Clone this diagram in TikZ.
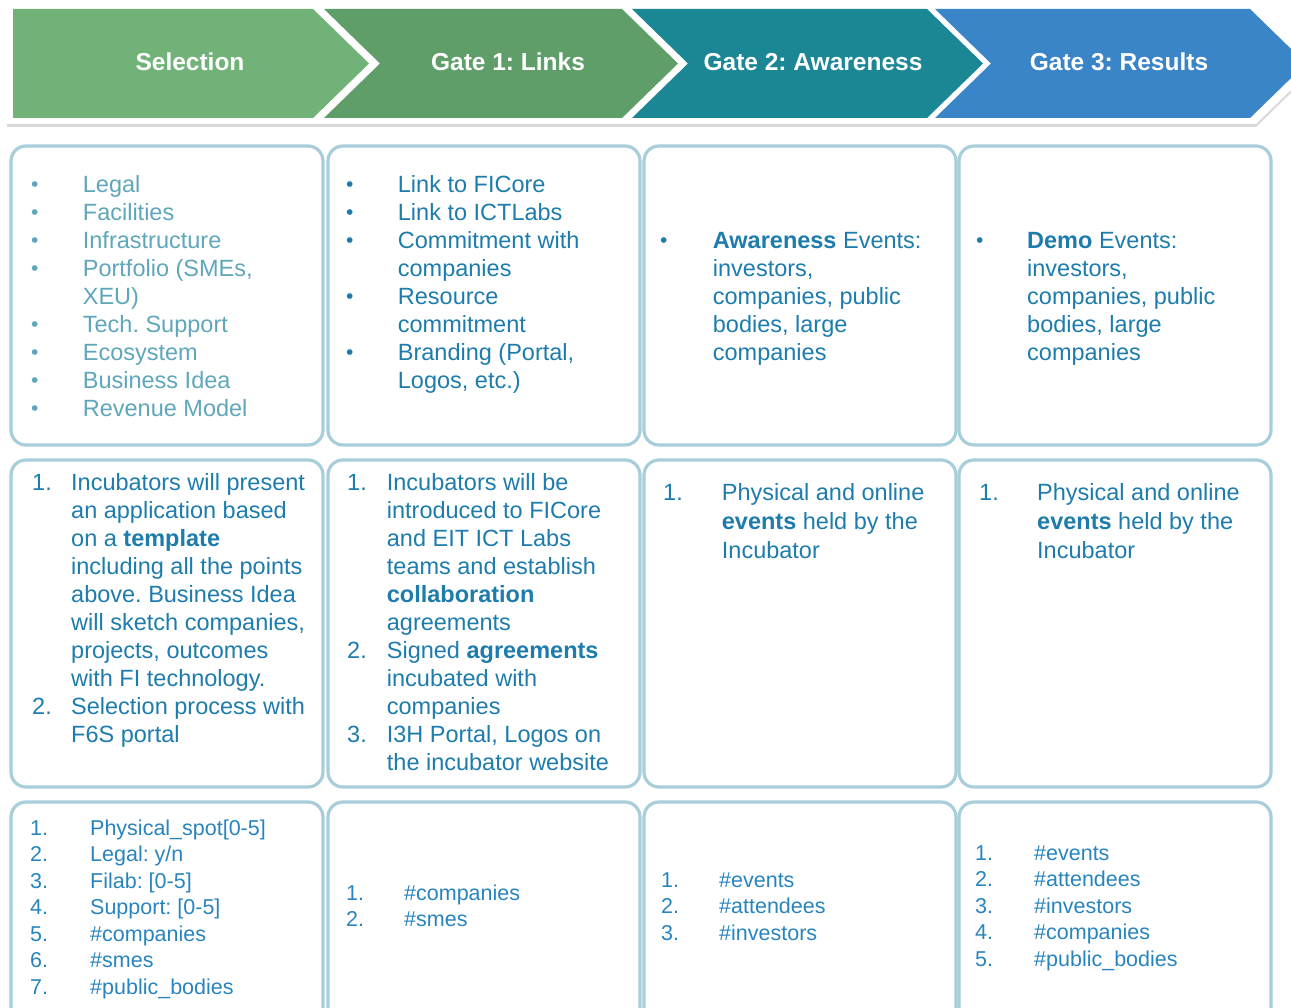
\documentclass[tikz,border=0pt]{standalone}
\usepackage{fontspec}
\setmainfont{Liberation Sans}
\usetikzlibrary{shadows}

\definecolor{selgreen}{RGB}{112,178,119}
\definecolor{linkgreen}{RGB}{95,158,104}
\definecolor{awareteal}{RGB}{27,135,149}
\definecolor{resultblue}{RGB}{58,132,200}
\definecolor{boxline}{RGB}{168,206,218}
\definecolor{softtext}{RGB}{95,166,186}
\definecolor{maintext}{RGB}{29,124,172}
\definecolor{kpitext}{RGB}{40,132,190}

\newcommand{\bodyfont}{\fontsize{23.5}{28}\selectfont}
\newcommand{\eventfont}{\fontsize{23.5}{29}\selectfont}
\newcommand{\kpifont}{\fontsize{21.5}{26.5}\selectfont}
\newcommand{\headfont}{\fontsize{24.5}{28}\selectfont\bfseries}
\newcommand{\bul}{\raisebox{1.5pt}{\fontsize{21}{21}\selectfont\textbullet}}

\begin{document}
\frenchspacing
\begin{tikzpicture}[x=1pt,y=-1pt,
  gatelabel/.style={text=white, font=\headfont, inner sep=0pt},
  cellbox/.style={draw=boxline, line width=3.2pt, rounded corners=15pt},
  cell/.style={anchor=base west, inner sep=0pt}]
\path[use as bounding box, clip] (0,0) rectangle (1291,1008);

% arrow band
\fill[white, drop shadow={shadow xshift=0pt, shadow yshift=-3pt, opacity=0.3}]
  (7,4) -- (1256,4) -- (1318,63.5) -- (1256,124) -- (7,124) -- cycle;
\fill[selgreen] (13,9) -- (313,9) -- (369,63.5) -- (313,118) -- (13,118) -- cycle;
\fill[linkgreen] (324,9) -- (622,9) -- (678,63.5) -- (622,118) -- (324,118) -- (380,63.5) -- cycle;
\fill[awareteal] (632,9) -- (927,9) -- (983,63.5) -- (927,118) -- (632,118) -- (688,63.5) -- cycle;
\fill[resultblue] (935,9) -- (1250,9) -- (1306,63.5) -- (1250,118) -- (935,118) -- (991,63.5) -- cycle;

\node[gatelabel] (selection) at (190,62) {Selection};
\node[gatelabel] (links) at (508,62) {Gate 1: Links};
\node[gatelabel] (awareness) at (813,62) {Gate 2: Awareness};
\node[gatelabel] (results) at (1119,62) {Gate 3: Results};

% table cells
\foreach \cx in {11,328,644,959}
{
\draw[cellbox] (\cx,146) rectangle ++(312,299);
\draw[cellbox] (\cx,460) rectangle ++(312,327);
\draw[cellbox] (\cx,802) rectangle ++(312,240);
}

% row 1
\node[cell, text=softtext, font=\bodyfont] (selreq) at (31,193) {\begin{tabular}[t]{@{}p{51.7pt}@{}l@{}}
\bul & Legal\\
\bul & Facilities\\
\bul & Infrastructure\\
\bul & Portfolio (SMEs,\\
 & XEU)\\
\bul & Tech. Support\\
\bul & Ecosystem\\
\bul & Business Idea\\
\bul & Revenue Model
\end{tabular}};
\node[cell, text=maintext, font=\bodyfont] (linkreq) at (346,193) {\begin{tabular}[t]{@{}p{51.7pt}@{}l@{}}
\bul & Link to FICore\\
\bul & Link to ICTLabs\\
\bul & Commitment with\\
 & companies\\
\bul & Resource\\
 & commitment\\
\bul & Branding (Portal,\\
 & Logos, etc.)
\end{tabular}};
\node[cell, text=maintext, font=\bodyfont] (awarereq) at (660,249) {\begin{tabular}[t]{@{}p{52.7pt}@{}l@{}}
\bul & \textbf{Awareness} Events:\\
 & investors,\\
 & companies, public\\
 & bodies, large\\
 & companies
\end{tabular}};
\node[cell, text=maintext, font=\bodyfont] (resultreq) at (976,249) {\begin{tabular}[t]{@{}p{51pt}@{}l@{}}
\bul & \textbf{Demo} Events:\\
 & investors,\\
 & companies, public\\
 & bodies, large\\
 & companies
\end{tabular}};

% row 2
\node[cell, text=maintext, font=\bodyfont] (selhow) at (32,490) {\begin{tabular}[t]{@{}p{39pt}@{}l@{}}
1. & Incubators will present\\
 & an application based\\
 & on a \textbf{template}\\
 & including all the points\\
 & above. Business Idea\\
 & will sketch companies,\\
 & projects, outcomes\\
 & with FI technology.\\
2. & Selection process with\\
 & F6S portal
\end{tabular}};
\node[cell, text=maintext, font=\bodyfont] (linkhow) at (347,490) {\begin{tabular}[t]{@{}p{39.7pt}@{}l@{}}
1. & Incubators will be\\
 & introduced to FICore\\
 & and EIT ICT Labs\\
 & teams and establish\\
 & \textbf{collaboration}\\
 & agreements\\
2. & Signed \textbf{agreements}\\
 & incubated with\\
 & companies\\
3. & I3H Portal, Logos on\\
 & the incubator website
\end{tabular}};
\node[cell, text=maintext, font=\eventfont] (awarehow) at (663,500) {\begin{tabular}[t]{@{}p{58.7pt}@{}l@{}}
1. & Physical and online\\
 & \textbf{events} held by the\\
 & Incubator
\end{tabular}};
\node[cell, text=maintext, font=\eventfont] (resulthow) at (979,500) {\begin{tabular}[t]{@{}p{58pt}@{}l@{}}
1. & Physical and online\\
 & \textbf{events} held by the\\
 & Incubator
\end{tabular}};

% row 3
\node[cell, text=kpitext, font=\kpifont] (selkpi) at (30,835) {\begin{tabular}[t]{@{}p{60pt}@{}l@{}}
1. & Physical\_spot[0-5]\\
2. & Legal: y/n\\
3. & Filab: [0-5]\\
4. & Support: [0-5]\\
5. & \#companies\\
6. & \#smes\\
7. & \#public\_bodies
\end{tabular}};
\node[cell, text=kpitext, font=\kpifont] (linkkpi) at (346,900) {\begin{tabular}[t]{@{}p{58pt}@{}l@{}}
1. & \#companies\\
2. & \#smes
\end{tabular}};
\node[cell, text=kpitext, font=\kpifont] (awarekpi) at (661,887) {\begin{tabular}[t]{@{}p{58pt}@{}l@{}}
1. & \#events\\
2. & \#attendees\\
3. & \#investors
\end{tabular}};
\node[cell, text=kpitext, font=\kpifont] (resultkpi) at (975,860) {\begin{tabular}[t]{@{}p{59pt}@{}l@{}}
1. & \#events\\
2. & \#attendees\\
3. & \#investors\\
4. & \#companies\\
5. & \#public\_bodies
\end{tabular}};
\end{tikzpicture}
\end{document}
